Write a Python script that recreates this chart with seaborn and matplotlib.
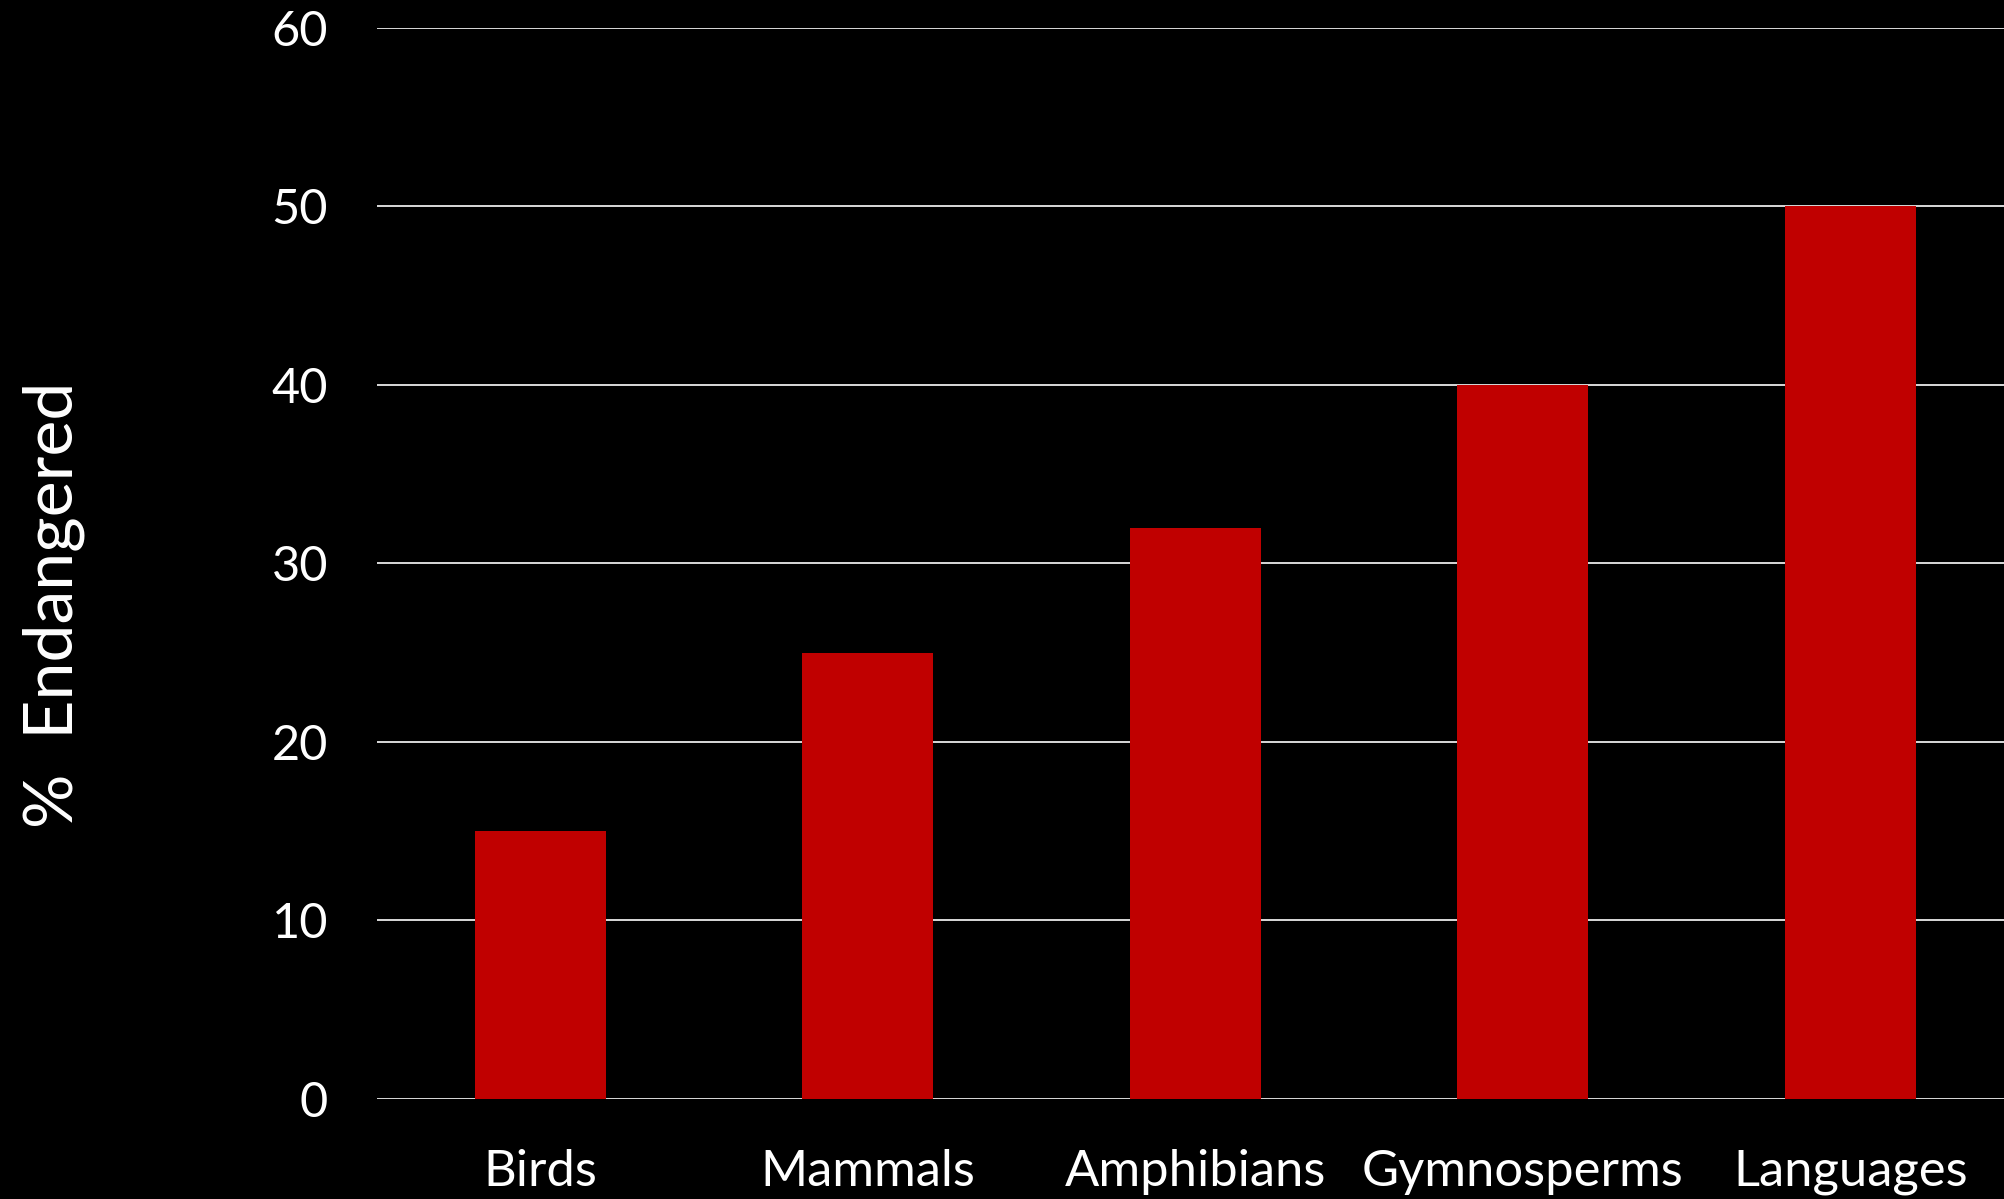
import matplotlib

matplotlib.use("Agg")

import matplotlib.pyplot as plt
import pandas as pd
import seaborn as sns

categories = ["Birds", "Mammals", "Amphibians", "Gymnosperms", "Languages"]
percent_endangered = [15, 25, 32, 40, 50]
y_ticks = [0, 10, 20, 30, 40, 50, 60]

bar_color = "#C00000"
grid_color = "#D9D9D9"

sns.set_theme(style="dark")
plt.rcParams["font.family"] = ["Lato", "DejaVu Sans"]

df = pd.DataFrame({"category": categories, "value": percent_endangered})

fig = plt.figure(figsize=(20.04, 11.99), dpi=100, facecolor="black")
ax = fig.add_axes([0.188, 0.0834, 0.817, 0.8934])
ax.set_facecolor("black")

# gridlines drawn under the bars
for t in y_ticks:
    ax.axhline(t, color=grid_color, linewidth=1.4, zorder=0)

sns.barplot(data=df, x="category", y="value", color=bar_color,
            saturation=1, width=0.4, linewidth=0, ax=ax, zorder=2)

ax.set_xlim(-0.5, 4.5)
ax.set_ylim(0, 60)
ax.set_yticks(y_ticks)
ax.set_yticklabels([str(t) for t in y_ticks])
ax.tick_params(axis="y", colors="white", labelsize=35, length=0, pad=35)
ax.tick_params(axis="x", colors="white", labelsize=36.5, length=0, pad=36)
ax.set_xlabel("")
ax.set_ylabel("%  Endangered", color="white", fontsize=49)
ax.yaxis.set_label_coords(-0.178, 0.461)

for spine in ax.spines.values():
    spine.set_visible(False)
ax.grid(False)

fig.savefig("out.png", facecolor="black")
